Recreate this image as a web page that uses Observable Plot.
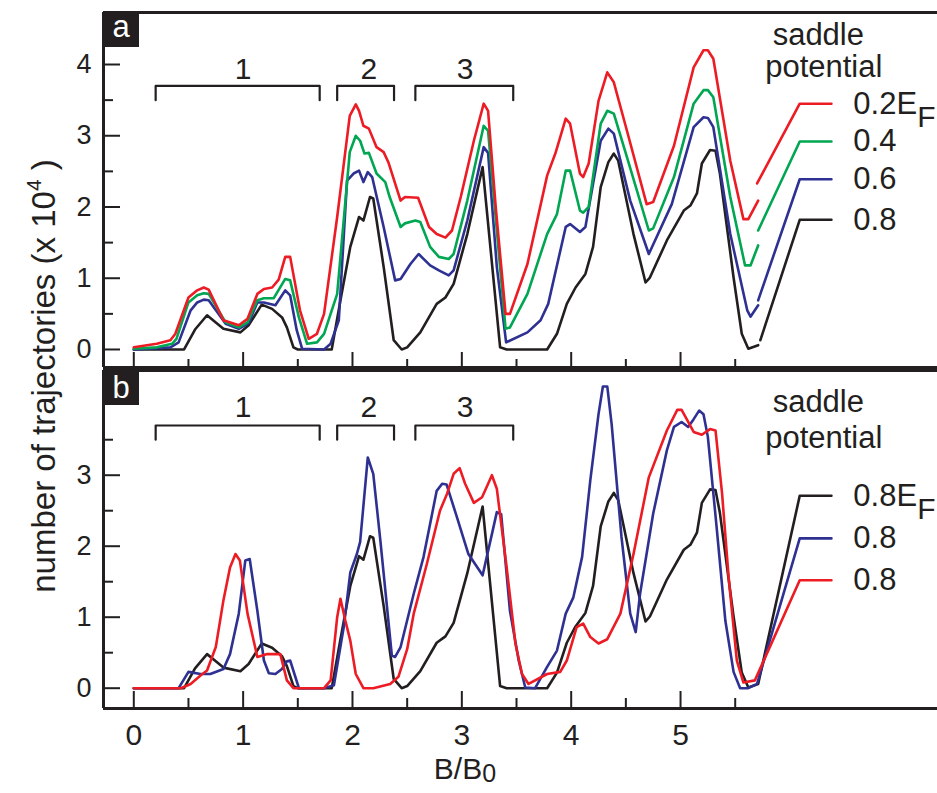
<!DOCTYPE html>
<html>
<head>
<meta charset="utf-8">
<script src="https://cdn.jsdelivr.net/npm/d3@7"></script>
<script src="https://cdn.jsdelivr.net/npm/@observablehq/plot@0.6"></script>
<style>
  html, body { margin: 0; padding: 0; background: #fff; }
  #wrap { position: relative; width: 937px; height: 793px; overflow: hidden; }
  #wrap > svg { position: absolute; left: 0; }
</style>
</head>
<body>
<div id="wrap"></div>
<script>
// ---------- data ----------
const xMajorTicks = [0, 1, 2, 3, 4, 5];
const xMinorTicks = [0.5, 1.5, 2.5, 3.5, 4.5, 5.5];
const yMajorTicksA = [0, 1, 2, 3, 4];
const yMinorTicksA = [0.5, 1.5, 2.5, 3.5];
const yMajorTicksB = [0, 1, 2, 3];
const yMinorTicksB = [0.5, 1.5, 2.5, 3.5];

const bracketStarts = [0.20, 1.86, 2.575];
const bracketEnds = [1.70, 2.38, 3.47];
const bracketLabels = ["1", "2", "3"];
const bracketLabelX = [1.0, 2.15, 3.03];

// panel a : saddle potential 0.2, 0.4, 0.6, 0.8 E_F
const seriesA02 = [[0,0.03],[0.21,0.08],[0.335,0.13],[0.38,0.22],[0.50,0.73],[0.58,0.83],[0.64,0.87],[0.685,0.84],[0.82,0.41],[0.96,0.34],[1.04,0.43],[1.13,0.78],[1.19,0.85],[1.265,0.87],[1.325,0.98],[1.385,1.30],[1.43,1.30],[1.52,0.55],[1.60,0.15],[1.675,0.22],[1.74,0.50],[1.86,1.86],[1.975,3.28],[2.03,3.44],[2.06,3.35],[2.10,3.14],[2.15,3.10],[2.22,2.84],[2.285,2.77],[2.33,2.62],[2.44,2.09],[2.48,2.14],[2.60,2.13],[2.70,1.72],[2.77,1.62],[2.85,1.57],[2.91,1.67],[2.99,2.14],[3.11,2.93],[3.20,3.45],[3.24,3.35],[3.31,2.0],[3.40,0.50],[3.44,0.50],[3.60,1.20],[3.78,2.44],[3.855,2.75],[3.95,3.24],[3.99,3.17],[4.08,2.47],[4.11,2.42],[4.16,2.61],[4.25,3.49],[4.33,3.89],[4.39,3.75],[4.51,3.07],[4.69,2.04],[4.75,2.07],[4.94,2.86],[5.12,3.96],[5.21,4.20],[5.25,4.20],[5.30,4.08],[5.455,2.65],[5.575,1.83],[5.62,1.83],[5.71,2.09]];
const seriesA04 = [[0,0.01],[0.21,0.03],[0.35,0.08],[0.39,0.15],[0.50,0.66],[0.58,0.76],[0.64,0.79],[0.685,0.78],[0.84,0.38],[0.96,0.31],[1.04,0.38],[1.13,0.69],[1.19,0.72],[1.28,0.72],[1.385,0.99],[1.43,0.97],[1.51,0.45],[1.585,0.08],[1.675,0.10],[1.74,0.22],[1.86,0.78],[1.975,2.77],[2.03,3.0],[2.07,2.93],[2.11,2.75],[2.15,2.76],[2.22,2.47],[2.30,2.35],[2.34,2.14],[2.44,1.72],[2.48,1.77],[2.575,1.81],[2.62,1.79],[2.71,1.44],[2.79,1.30],[2.88,1.27],[2.925,1.34],[3.05,2.09],[3.20,3.14],[3.24,3.07],[3.32,1.67],[3.40,0.29],[3.44,0.31],[3.60,0.78],[3.78,1.62],[3.87,1.90],[3.95,2.51],[3.99,2.51],[4.08,1.95],[4.11,1.92],[4.16,2.0],[4.27,3.17],[4.33,3.35],[4.39,3.31],[4.51,2.70],[4.71,1.67],[4.75,1.70],[4.94,2.42],[5.12,3.45],[5.21,3.64],[5.25,3.64],[5.30,3.54],[5.455,2.14],[5.59,1.18],[5.64,1.18],[5.71,1.46]];
const seriesA06 = [[0,0],[0.335,0.03],[0.41,0.10],[0.52,0.55],[0.58,0.66],[0.64,0.70],[0.685,0.69],[0.84,0.36],[0.96,0.29],[1.05,0.37],[1.13,0.66],[1.19,0.66],[1.295,0.62],[1.385,0.83],[1.43,0.76],[1.49,0.27],[1.54,0.01],[1.74,0],[1.80,0.08],[1.875,0.41],[1.95,2.37],[2.01,2.47],[2.06,2.51],[2.10,2.35],[2.14,2.49],[2.18,2.42],[2.285,1.72],[2.39,0.97],[2.44,0.99],[2.53,1.20],[2.605,1.34],[2.71,1.18],[2.79,1.11],[2.88,1.04],[2.925,1.11],[3.05,1.81],[3.20,2.84],[3.24,2.76],[3.32,1.16],[3.405,0.10],[3.60,0.24],[3.72,0.41],[3.79,0.64],[3.95,1.72],[3.99,1.76],[4.08,1.65],[4.13,1.72],[4.27,2.93],[4.34,3.10],[4.39,3.03],[4.54,2.09],[4.71,1.34],[4.92,2.04],[5.12,3.12],[5.21,3.26],[5.25,3.25],[5.30,3.12],[5.455,1.62],[5.61,0.55],[5.64,0.46],[5.71,0.62]];
const seriesA08 = [[0,0],[0.46,0],[0.56,0.28],[0.67,0.48],[0.75,0.38],[0.82,0.29],[0.975,0.24],[1.05,0.34],[1.17,0.63],[1.265,0.57],[1.356,0.45],[1.40,0.31],[1.46,0.03],[1.50,0],[1.81,0],[1.89,0.69],[1.98,1.44],[2.06,1.86],[2.10,1.81],[2.16,2.14],[2.19,2.12],[2.285,1.16],[2.377,0.13],[2.45,0],[2.50,0.03],[2.62,0.24],[2.77,0.64],[2.85,0.73],[2.925,0.92],[3.05,1.62],[3.19,2.56],[3.35,0.03],[3.41,0],[3.78,0],[3.87,0.22],[3.96,0.64],[4.04,0.87],[4.13,1.06],[4.20,1.44],[4.27,2.28],[4.34,2.63],[4.39,2.75],[4.43,2.65],[4.57,1.62],[4.68,0.94],[4.72,1.01],[4.875,1.53],[5.03,1.95],[5.09,2.02],[5.15,2.19],[5.195,2.61],[5.27,2.80],[5.32,2.79],[5.36,2.47],[5.485,1.01],[5.56,0.22],[5.62,0.01],[5.71,0.06]];

// legend leader lines, panel a (start point, then knee/end)
const legendStartA = [[5.70,2.33],[5.71,1.67],[5.71,0.69],[5.73,0.13]];
const legendYA = [3.45, 2.92, 2.39, 1.82];
const legendLabelsA = ["0.2E", "0.4", "0.6", "0.8"];
const legendKneeX = 6.09;
const legendEndX = 6.38;
const legendTextX = 6.58;

// panel b : three runs at 0.8 E_F
const seriesB08black = seriesA08.concat([[6.09,2.71],[6.38,2.71]]);
const seriesB08blue = [[0,0],[0.41,0],[0.50,0.23],[0.61,0.20],[0.70,0.20],[0.82,0.27],[0.88,0.48],[0.96,1.05],[1.02,1.80],[1.06,1.82],[1.13,1.09],[1.19,0.39],[1.235,0.21],[1.295,0.20],[1.355,0.27],[1.40,0.38],[1.43,0.39],[1.51,0],[1.74,0],[1.83,0.04],[1.92,0.86],[1.98,1.63],[2.04,1.89],[2.07,2.06],[2.14,3.25],[2.19,3.02],[2.255,2.08],[2.36,0.46],[2.39,0.44],[2.44,0.58],[2.56,1.33],[2.65,1.85],[2.77,2.78],[2.82,2.88],[2.86,2.87],[2.955,2.41],[3.06,1.89],[3.19,1.59],[3.275,2.17],[3.32,2.48],[3.36,2.45],[3.44,1.09],[3.52,0.39],[3.58,0.01],[3.67,0],[3.78,0.30],[3.87,0.53],[3.95,1.05],[4.02,1.28],[4.10,1.85],[4.175,2.93],[4.25,3.86],[4.29,4.25],[4.33,4.25],[4.37,3.72],[4.46,2.13],[4.54,1.05],[4.59,0.79],[4.63,1.33],[4.75,2.46],[4.875,3.35],[4.94,3.68],[5.01,3.75],[5.07,3.68],[5.12,3.79],[5.17,3.91],[5.21,3.86],[5.25,3.54],[5.33,2.27],[5.41,0.95],[5.485,0.23],[5.545,0],[5.62,0],[5.70,0.06],[6.09,2.11],[6.38,2.11]];
const seriesB08red = [[0,0],[0.43,0],[0.52,0.06],[0.61,0.18],[0.67,0.25],[0.75,0.58],[0.82,1.24],[0.88,1.70],[0.93,1.89],[0.97,1.80],[1.04,1.05],[1.13,0.44],[1.22,0.48],[1.34,0.48],[1.40,0.11],[1.46,0],[1.74,0],[1.80,0.11],[1.86,1.0],[1.89,1.26],[1.935,0.95],[1.98,0.67],[2.03,0.20],[2.10,0],[2.19,0],[2.345,0.06],[2.42,0.16],[2.50,0.55],[2.56,1.05],[2.68,1.75],[2.80,2.50],[2.865,2.74],[2.925,3.02],[2.98,3.10],[3.03,2.88],[3.11,2.61],[3.185,2.69],[3.275,3.0],[3.32,2.81],[3.41,1.70],[3.49,0.63],[3.55,0.20],[3.61,0.06],[3.78,0.20],[3.90,0.23],[3.96,0.39],[4.05,0.86],[4.11,0.91],[4.175,0.72],[4.25,0.63],[4.33,0.69],[4.45,1.05],[4.57,1.89],[4.71,2.97],[4.875,3.63],[4.97,3.92],[5.01,3.92],[5.12,3.61],[5.195,3.57],[5.27,3.65],[5.32,3.63],[5.38,2.74],[5.44,1.56],[5.515,0.39],[5.575,0.08],[5.68,0.11],[6.09,1.52],[6.38,1.52]];
const legendYB = [2.71, 2.11, 1.52];
const legendLabelsB = ["0.8E", "0.8", "0.8"];

// ---------- styling ----------
const FONT = "'Liberation Sans', Arial, Helvetica, sans-serif";
const INK = "#231f20";
const RED = "#ed1c24", GREEN = "#00a651", BLUE = "#2e3192", BLACK = "#231f20";
const W = 937;
const xDomain = [-0.277, 7.35];
const LEFT = 103;
const frameW = W - LEFT;
const LW = 2.6;

const bracketPath = bracketStarts.flatMap((s, i) => [
  {b: i, x: s, y: 3.5}, {b: i, x: s, y: 3.7}, {b: i, x: bracketEnds[i], y: 3.7}, {b: i, x: bracketEnds[i], y: 3.5}
]);
const bracketText = bracketLabels.map((t, i) => ({t, x: bracketLabelX[i]}));

function lineMark(data, color) {
  return Plot.line(data, {x: d => d[0], y: d => d[1], stroke: color, strokeWidth: LW, strokeLinejoin: "round"});
}

function commonMarks(yDom, frameH, yMajor, yMinor, xMajLen, xMinLen, bracketLabelY) {
  return [
    Plot.ruleX([xDomain[0]], {stroke: INK, strokeWidth: 3}),
    Plot.ruleY(yDom, {stroke: INK, strokeWidth: 3}),
    Plot.tickY(yMajor, {y: d => d, stroke: INK, strokeWidth: 2, insetRight: frameW - 17}),
    Plot.tickY(yMinor, {y: d => d, stroke: INK, strokeWidth: 2, insetRight: frameW - 10}),
    Plot.tickX(xMajorTicks, {x: d => d, stroke: INK, strokeWidth: 2, insetTop: frameH - xMajLen}),
    Plot.tickX(xMinorTicks, {x: d => d, stroke: INK, strokeWidth: 2, insetTop: frameH - xMinLen}),
    Plot.text(yMajor, {y: d => d, frameAnchor: "left", text: d => String(d), textAnchor: "end", dx: -12, fontSize: 27, fill: INK}),
    Plot.line(bracketPath, {x: "x", y: "y", z: "b", stroke: INK, strokeWidth: 2.2}),
    Plot.text(bracketText, {x: "x", y: () => bracketLabelY, text: "t", fontSize: 30, fill: INK})
  ];
}

function panelLetter(svgNode, top, letter, baseline) {
  const s = d3.select(svgNode);
  s.append("rect").attr("x", LEFT).attr("y", top).attr("width", 36).attr("height", 35).attr("fill", INK);
  s.append("text").attr("x", LEFT + 18).attr("y", baseline).attr("text-anchor", "middle")
    .attr("font-family", FONT).attr("font-size", 31).attr("fill", "white").text(letter);
}

// ---------- panel a ----------
const yDomA = [-0.253, 4.73];
const legendSegsA = legendStartA.flatMap((p, i) => [
  {s: i, x: p[0], y: p[1]}, {s: i, x: legendKneeX, y: legendYA[i]}, {s: i, x: legendEndX, y: legendYA[i]}
]);
const colorsA = [RED, GREEN, BLUE, BLACK];

const plotA = Plot.plot({
  width: W, height: 369,
  marginLeft: LEFT, marginRight: 0, marginTop: 12, marginBottom: 2,
  x: {domain: xDomain, axis: null},
  y: {domain: yDomA, axis: null},
  style: {fontFamily: FONT, background: "transparent", color: INK},
  marks: [
    ...commonMarks(yDomA, 355, yMajorTicksA, yMinorTicksA, 15, 8, 3.93),
    lineMark(seriesA08, BLACK),
    lineMark(seriesA06, BLUE),
    lineMark(seriesA04, GREEN),
    lineMark(seriesA02, RED),
    Plot.line(legendSegsA, {x: "x", y: "y", z: "s", stroke: d => colorsA[d.s], strokeWidth: LW}),
    Plot.text(["saddle"], {x: () => 6.26, y: () => 4.41, text: d => d, fontSize: 31, fill: INK}),
    Plot.text(["potential"], {x: () => 6.31, y: () => 3.96, text: d => d, fontSize: 31, fill: INK}),
    Plot.text(legendLabelsA, {x: () => legendTextX, y: (d, i) => legendYA[i], text: d => d, textAnchor: "start", fontSize: 31, fill: INK}),
    Plot.text(["F"], {x: () => legendTextX, y: () => legendYA[0], text: d => d, textAnchor: "start", dx: 64, dy: 14, fontSize: 30, fill: INK})
  ]
});
plotA.style.top = "0px";
panelLetter(plotA, 12, "a", 37);

// ---------- panel b ----------
const yDomB = [-0.286, 4.475];
const plotB = Plot.plot({
  width: W, height: 424,
  marginLeft: LEFT, marginRight: 0, marginTop: 1, marginBottom: 85,
  x: {domain: xDomain, axis: null},
  y: {domain: yDomB, axis: null},
  style: {fontFamily: FONT, background: "transparent", color: INK},
  marks: [
    ...commonMarks(yDomB, 338, yMajorTicksB, yMinorTicksB, 17, 10, 3.95),
    lineMark(seriesB08black, BLACK),
    lineMark(seriesB08blue, BLUE),
    lineMark(seriesB08red, RED),
    Plot.text(["saddle"], {x: () => 6.26, y: () => 4.03, text: d => d, fontSize: 31, fill: INK}),
    Plot.text(["potential"], {x: () => 6.31, y: () => 3.53, text: d => d, fontSize: 31, fill: INK}),
    Plot.text(legendLabelsB, {x: () => legendTextX, y: (d, i) => legendYB[i], text: d => d, textAnchor: "start", fontSize: 31, fill: INK}),
    Plot.text(["F"], {x: () => legendTextX, y: () => legendYB[0], text: d => d, textAnchor: "start", dx: 64, dy: 14, fontSize: 30, fill: INK}),
    Plot.text(xMajorTicks, {x: d => d, frameAnchor: "bottom", lineAnchor: "top", text: d => String(d), dy: 15, fontSize: 30, fill: INK}),
    Plot.text(["B/B"], {x: () => 3, frameAnchor: "bottom", lineAnchor: "top", text: d => d, textAnchor: "start", dx: -28, dy: 49, fontSize: 30, fill: INK}),
    Plot.text(["0"], {x: () => 3, frameAnchor: "bottom", lineAnchor: "top", text: d => d, textAnchor: "start", dx: 20.5, dy: 56, fontSize: 25, fill: INK})
  ]
});
plotB.style.top = "369px";
panelLetter(plotB, 1, "b", 28.5);

const wrap = document.getElementById("wrap");
wrap.appendChild(plotA);
wrap.appendChild(plotB);

// ---------- shared y-axis title ----------
const overlay = d3.create("svg")
  .attr("width", W).attr("height", 793)
  .style("top", "0px").style("pointer-events", "none");
const t = overlay.append("text")
  .attr("transform", "translate(55,376) rotate(-90)")
  .attr("text-anchor", "middle")
  .attr("font-family", FONT)
  .attr("font-size", 33)
  .attr("fill", INK);
t.append("tspan").text("number of trajectories (x 10");
t.append("tspan").attr("font-size", 21).attr("dy", -14).text("4");
t.append("tspan").attr("dy", 14).text(" )");
wrap.appendChild(overlay.node());
</script>
</body>
</html>
